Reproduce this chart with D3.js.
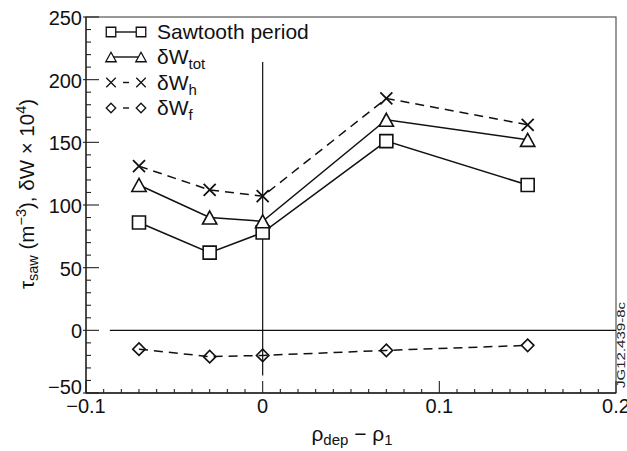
<!DOCTYPE html>
<html><head><meta charset="utf-8">
<script src="https://cdn.jsdelivr.net/npm/d3@7"></script>
<style>
html,body{margin:0;padding:0;background:#fff;}
svg{display:block;font-family:"Liberation Sans",Arial,sans-serif;}
</style></head>
<body>
<svg id="chart" width="627" height="451"></svg>
<script>
// ---- data ----
const xVals = [-0.07, -0.03, 0, 0.07, 0.15];
const sawtooth = [86, 62, 78, 151, 116];
const dWtot = [116, 90, 87, 168, 152];
const dWh = [131, 112, 107, 185, 164];
const dWf = [-15, -21, -20, -16, -12];
const xMajorTicks = [-0.1, 0, 0.1, 0.2];
const xTickLabels = ["\u22120.1", "0", "0.1", "0.2"];
const yMajorTicks = [-50, 0, 50, 100, 150, 200, 250];
const yTickLabels = ["\u221250", "0", "50", "100", "150", "200", "250"];
const zeroLine = [[-0.0865, 0], [0.2, 0]];
const vertLine = [[0, -36], [0, 214]];

const series = [
  {name: "Sawtooth period", sub: "", values: sawtooth, marker: "square", dash: null},
  {name: "\u03b4W", sub: "tot", values: dWtot, marker: "triangle", dash: null},
  {name: "\u03b4W", sub: "h", values: dWh, marker: "cross", dash: "9,6"},
  {name: "\u03b4W", sub: "f", values: dWf, marker: "diamond", dash: "9,6"}
];

const svg = d3.select("#chart");
const x = d3.scaleLinear().domain([-0.1, 0.2]).range([86, 616]);
const y = d3.scaleLinear().domain([-50, 250]).range([393, 17]);

function markerPath(type, s) {
  const h = s / 2;
  if (type === "square") return `M${-h},${-h}H${h}V${h}H${-h}Z`;
  if (type === "triangle") { const w = h * 1.1; return `M0,${-h}L${w},${h}L${-w},${h}Z`; }
  if (type === "diamond") { return `M0,${-h}L${h},0L0,${h}L${-h},0Z`; }
  if (type === "cross") return `M${-h},${-h}L${h},${h}M${-h},${h}L${h},${-h}`;
}

// frame
svg.append("rect").attr("x", x(-0.1)).attr("y", y(250))
  .attr("width", x(0.2) - x(-0.1)).attr("height", y(-50) - y(250))
  .attr("fill", "none").attr("stroke", "#555").attr("stroke-width", 1.2);
svg.append("line").attr("x1", x(-0.1)).attr("x2", x(0.2)).attr("y1", y(-50)).attr("y2", y(-50))
  .attr("stroke", "#222").attr("stroke-width", 1.3);
svg.append("line").attr("x1", x(-0.1)).attr("x2", x(-0.1)).attr("y1", y(-50)).attr("y2", y(250))
  .attr("stroke", "#222").attr("stroke-width", 1.3);

// x ticks
const xMinor = d3.range(-10, 21).map(i => i / 100);
svg.append("g").selectAll("line").data(xMinor).join("line")
  .attr("x1", d => x(d)).attr("x2", d => x(d))
  .attr("y1", y(-50)).attr("y2", d => Math.abs(Math.round(d * 100) % 10) === 0 ? y(-50) - 12 : y(-50) - 4)
  .attr("stroke", "#222").attr("stroke-width", 1.1);
svg.append("g").selectAll("text").data(xMajorTicks).join("text")
  .attr("x", d => x(d)).attr("y", y(-50) + 19.5)
  .attr("text-anchor", "middle").attr("font-size", 20).attr("fill", "#111")
  .text((d, i) => xTickLabels[i]);

// y ticks
const yMinor = d3.range(-50, 251, 10);
svg.append("g").selectAll("line").data(yMinor).join("line")
  .attr("x1", d => d % 50 === 0 ? x(-0.1) - 3 : x(-0.1))
  .attr("x2", d => d % 50 === 0 ? x(-0.1) + 13 : x(-0.1) + 5)
  .attr("y1", d => y(d)).attr("y2", d => y(d))
  .attr("stroke", "#222").attr("stroke-width", 1.1);
svg.append("g").selectAll("text").data(yMajorTicks).join("text")
  .attr("x", 82).attr("y", d => d === -50 ? y(d) + 1 : y(d) + 8)
  .attr("text-anchor", "end").attr("font-size", 20).attr("fill", "#111")
  .text((d, i) => yTickLabels[i]);

// reference lines
const ref = d3.line().x(d => x(d[0])).y(d => y(d[1]));
svg.append("path").attr("d", ref(zeroLine)).attr("stroke", "#111").attr("stroke-width", 1.2).attr("fill", "none");
svg.append("path").attr("d", ref(vertLine)).attr("stroke", "#111").attr("stroke-width", 1.2).attr("fill", "none");

// series lines
const line = d3.line().x((d, i) => x(xVals[i])).y(d => y(d));
series.forEach(s => {
  svg.append("path").attr("d", line(s.values)).attr("fill", "none")
    .attr("stroke", "#111").attr("stroke-width", 1.5)
    .attr("stroke-dasharray", s.dash);
});
// markers
series.forEach(s => {
  svg.append("g").selectAll("path").data(s.values).join("path")
    .attr("transform", (d, i) => `translate(${x(xVals[i])},${y(d)})`)
    .attr("d", markerPath(s.marker, s.marker === "cross" ? 12 : (s.marker === "diamond" ? 12.5 : 13)))
    .attr("fill", s.marker === "diamond" || s.marker === "cross" ? "none" : "#fff")
    .attr("stroke", "#111").attr("stroke-width", s.marker === "cross" ? 1.8 : 1.6);
});

// legend
const legY = [32, 57, 82.5, 108];
series.forEach((s, i) => {
  const g = svg.append("g");
  const cy = legY[i];
  if (s.dash) {
    g.append("line").attr("x1", 123).attr("x2", 129).attr("y1", cy).attr("y2", cy)
      .attr("stroke", "#111").attr("stroke-width", 1.4);
  } else {
    g.append("line").attr("x1", 111).attr("x2", 141).attr("y1", cy).attr("y2", cy)
      .attr("stroke", "#111").attr("stroke-width", 1.4);
  }
  [111, 141].forEach(cx => {
    g.append("path").attr("transform", `translate(${cx},${cy})`)
      .attr("d", markerPath(s.marker, 9.5))
      .attr("fill", "#fff")
      .attr("stroke", "#111").attr("stroke-width", 1.3);
  });
  const t = g.append("text").attr("x", 157).attr("y", cy + 7).attr("font-size", 21).attr("fill", "#111");
  t.append("tspan").text(s.name);
  if (s.sub) t.append("tspan").attr("font-size", 15).attr("dy", 5).text(s.sub);
});

// axis titles
const xt = svg.append("text").attr("x", 352).attr("y", 441).attr("text-anchor", "middle")
  .attr("font-size", 21).attr("fill", "#111");
xt.append("tspan").text("\u03c1");
xt.append("tspan").attr("font-size", 15).attr("dy", 4).text("dep");
xt.append("tspan").attr("dy", -4).text(" \u2212 \u03c1");
xt.append("tspan").attr("font-size", 15).attr("dy", 4).text("1");

const yt = svg.append("text").attr("transform", "translate(34,194) rotate(-90)")
  .attr("text-anchor", "middle").attr("font-size", 20.5).attr("fill", "#111");
yt.append("tspan").text("\u03c4");
yt.append("tspan").attr("font-size", 14.5).attr("dy", 4).text("saw");
yt.append("tspan").attr("dy", -4).text(" (m");
yt.append("tspan").attr("font-size", 14.5).attr("dy", -8).text("\u22123");
yt.append("tspan").attr("dy", 8).text("), \u03b4W \u00d7 10");
yt.append("tspan").attr("font-size", 14.5).attr("dy", -8).text("4");
yt.append("tspan").attr("dy", 8).text(")");

// figure id
svg.append("text").attr("transform", "translate(625,388) rotate(-90)")
  .attr("font-size", 11).attr("fill", "#222").attr("textLength", 86).attr("lengthAdjust", "spacingAndGlyphs")
  .text("JG12.439-8c");
</script>
</body></html>
